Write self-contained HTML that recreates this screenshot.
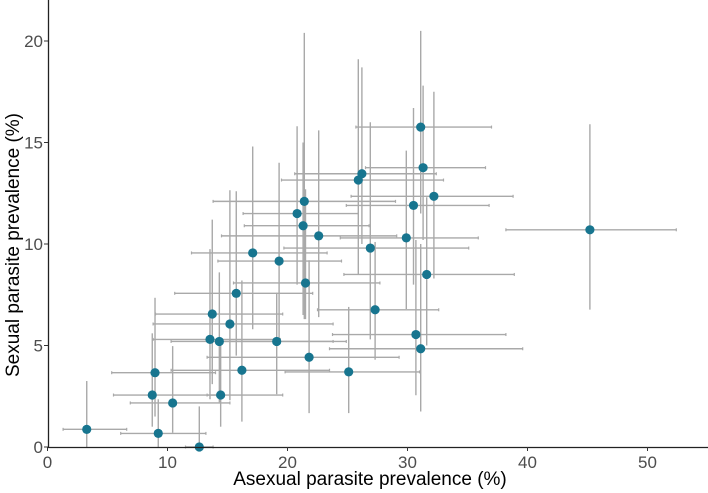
<!DOCTYPE html>
<html><head><meta charset="utf-8"><style>
html,body{margin:0;padding:0;background:#fff;}
svg{display:block;font-family:"Liberation Sans",Arial,sans-serif;}
</style></head><body>
<svg id="chart" width="708" height="493" viewBox="0 0 708 493" xmlns="http://www.w3.org/2000/svg">
<g id="bars"></g>
<g id="pts"></g>
<g id="axes"></g>
<text x="370" y="485" text-anchor="middle" font-size="19" fill="#000">Asexual parasite prevalence (%)</text>
<text transform="translate(19,245) rotate(-90)" text-anchor="middle" font-size="19" fill="#000">Sexual parasite prevalence (%)</text>
</svg>
<script>
const xs  = [3.27,9.23,10.43,8.73,8.96,12.65,14.43,16.2,13.54,14.32,15.2,13.73,15.73,17.1,19.3,19.1,21.8,21.5,21.3,22.6,45.2,31.6,27.3,30.7,31.1,25.1,26.9,29.9,32.2,30.5,21.4,20.8,31.1,31.3,26.2,25.9];
const ys  = [0.87,0.67,2.17,2.56,3.66,0,2.56,3.78,5.3,5.2,6.06,6.55,7.57,9.56,9.16,5.2,4.42,8.08,10.9,10.4,10.7,8.5,6.76,5.54,4.84,3.7,9.8,10.3,12.35,11.9,12.1,11.5,15.76,13.76,13.46,13.15];
const xlo = [1.3,6.1,6.9,5.5,5.35,11.5,13.3,10.3,8.8,10.3,8.8,9.0,10.6,12.0,14.2,13.6,13.3,15.5,16.4,14.5,38.2,24.7,22.5,23.75,23.5,19.8,19.7,24.4,25.3,24.9,13.8,16.3,25.7,26.5,20.6,19.5];
const xhi = [6.6,13.2,15.2,14.1,14.0,13.8,19.6,23.5,19.4,23.8,23.8,19.6,22.1,23.3,24.5,24.9,29.3,27.7,26.8,29.1,52.4,38.9,32.6,38.2,39.6,31.0,35.1,35.9,38.8,36.8,29.0,25.9,37.0,36.5,32.4,33.0];
const ylo = [0,0,0.7,1.0,1.5,0,1.0,1.25,2.35,2.2,2.3,3.1,4.5,5.8,5.2,2.6,1.67,6.3,6.5,6.4,6.77,5.0,4.3,2.55,1.75,1.67,5.3,6.8,8.3,8.0,6.3,8.0,11.5,10.2,10.0,8.5];
const yhi = [3.25,2.35,4.97,5.6,7.35,2.0,5.4,8.2,9.75,8.6,12.65,11.2,12.6,14.8,14.0,7.6,9.2,12.7,15.0,15.6,15.9,12.3,10.1,10.2,10.0,6.9,16.0,14.6,17.5,16.7,20.4,15.8,20.5,17.8,18.7,19.1];
const xTicks = [0,10,20,30,40,50];
const yTicks = [0,5,10,15,20];

const NS="http://www.w3.org/2000/svg";
const X = v => 47.5 + 12*v;
const Y = v => 447 - 20.3*v;
function mk(tag, attrs, parent){const e=document.createElementNS(NS,tag);for(const k in attrs)e.setAttribute(k,attrs[k]);parent.appendChild(e);return e;}
const bars=document.getElementById('bars'), pts=document.getElementById('pts'), axes=document.getElementById('axes');
for(let i=0;i<xs.length;i++){
  const v=mk('line',{x1:X(xs[i]),x2:X(xs[i]),y1:Y(ylo[i]),y2:Y(yhi[i]),stroke:'#a9a9a9','stroke-width':1.4},bars);
  
  
  const h=mk('line',{x1:X(xlo[i]),x2:X(xhi[i]),y1:Y(ys[i]),y2:Y(ys[i]),stroke:'#a9a9a9','stroke-width':1.4},bars);
  
  
  [xlo[i],xhi[i]].forEach(c=>{
    const cp=mk('line',{x1:X(c),x2:X(c),y1:Y(ys[i])-1.5,y2:Y(ys[i])+1.5,stroke:'#a9a9a9','stroke-width':1.2},bars);
    
    
  });
}
for(let i=0;i<xs.length;i++){
  const c=mk('circle',{cx:X(xs[i]),cy:Y(ys[i]),r:4.6,fill:'#17758f'},pts);
  
  
}
const xa=mk('line',{x1:48,x2:708,y1:447.5,y2:447.5,stroke:'#222','stroke-width':1.3},axes);


const ya=mk('line',{x1:48.5,x2:48.5,y1:0,y2:448,stroke:'#222','stroke-width':1.3},axes);


xTicks.forEach(t=>{
  const tk=mk('line',{x1:X(t),x2:X(t),y1:447,y2:451,stroke:'#333','stroke-width':1},axes);
  
  
  const tx=mk('text',{x:X(t),y:468,'text-anchor':'middle','font-size':17,fill:'#4d4d4d'},axes);
  tx.textContent=t;
  
  
});
yTicks.forEach(t=>{
  const tk=mk('line',{x1:44,x2:48,y1:Y(t),y2:Y(t),stroke:'#333','stroke-width':1},axes);
  
  
  const tx=mk('text',{x:43,y:Y(t)+6,'text-anchor':'end','font-size':17,fill:'#4d4d4d'},axes);
  tx.textContent=t;
  
  
});
</script>
</body></html>
